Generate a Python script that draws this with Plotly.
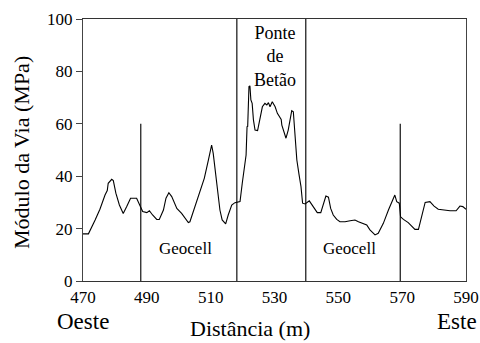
import plotly.graph_objects as go

# distance (m) and track modulus (MPa)
distance = [470.0, 471.7, 473.8, 475.3, 476.9, 477.6, 477.9, 479.0, 479.5, 480.3,
            481.4, 482.6, 483.7, 484.9, 486.8, 487.9, 488.7, 490.0, 490.8, 491.8,
            493.1, 493.9, 495.2, 496.0, 496.9, 497.8, 499.4, 500.9, 503.0, 503.5,
            505.1, 506.7, 508.0, 509.3, 510.3, 510.8, 511.9, 512.9, 513.6, 514.7,
            515.5, 516.6, 517.6, 519.2, 519.9, 520.5, 521.1, 521.4, 521.6, 522.0,
            522.3, 522.6, 523.0, 523.4, 523.9, 524.7, 525.4, 526.2, 527.0, 527.6,
            528.1, 528.6, 529.3, 530.2, 530.9, 531.5, 532.1, 532.3, 533.0, 533.6,
            534.3, 534.9, 535.4, 535.9, 536.4, 537.0, 537.7, 538.3, 538.8, 539.6,
            540.9, 542.2, 543.4, 544.5, 545.3, 546.1, 546.9, 547.6, 548.4, 549.5,
            550.5, 552.1, 553.7, 555.2, 556.3, 557.8, 558.9, 559.9, 561.5, 562.5,
            564.1, 565.7, 567.2, 567.7, 568.3, 569.1, 569.5, 570.4, 571.9, 574.0,
            575.1, 576.1, 576.8, 577.2, 578.7, 580.0, 581.3, 582.9, 585.0, 586.9,
            588.1, 589.0, 590.0]
modulus = [18.0, 18.0, 23.3, 27.4, 32.8, 34.5, 37.3, 38.8, 38.3, 33.5,
           29.0, 25.8, 28.4, 31.6, 31.6, 29.0, 26.5, 26.1, 26.8, 25.2,
           23.5, 23.5, 27.1, 31.6, 33.7, 32.2, 27.7, 25.8, 22.3, 22.6,
           28.4, 34.1, 39.2, 46.2, 51.9, 48.7, 37.3, 27.1, 23.3, 21.8,
           25.2, 29.0, 29.9, 30.3, 37.3, 42.4, 48.1, 58.9, 59.0, 74.2,
           74.5, 69.1, 67.8, 61.5, 57.6, 57.4, 61.5, 66.5, 67.8, 67.2,
           68.1, 66.5, 68.4, 66.5, 64.0, 62.7, 61.7, 59.5, 57.0, 54.5,
           57.6, 62.7, 65.0, 64.6, 56.4, 46.2, 40.5, 36.0, 29.7, 29.4,
           30.6, 28.4, 26.1, 26.1, 29.7, 32.4, 32.0, 27.7, 25.2, 23.5,
           22.6, 22.6, 23.0, 23.3, 22.6, 22.0, 21.4, 19.5, 17.6, 18.2,
           22.0, 27.1, 31.6, 32.8, 30.3, 29.7, 24.5, 23.5, 22.3, 19.7,
           19.7, 24.5, 28.4, 30.0, 30.3, 28.6, 27.4, 27.1, 26.8, 26.8,
           28.6, 28.4, 27.4]

# section boundaries (m) and marker heights (MPa)
boundaries = [488.1, 518.2, 539.8, 569.4]
boundary_heights = [60, 100, 100, 60]

x_ticks = [470, 490, 510, 530, 550, 570, 590]
y_ticks = [0, 20, 40, 60, 80, 100]

section_labels = ["Geocell", "Ponte<br>de<br>Betão", "Geocell"]
section_x = [502.1, 530.2, 553.4]
section_y = [12.5, 85.5, 12.5]

FONT = "Liberation Serif, Times New Roman, serif"

vx, vy = [], []
for b, h in zip(boundaries, boundary_heights):
    vx += [b, b, None]
    vy += [0, h, None]

fig = go.Figure()
fig.add_trace(go.Scatter(x=vx, y=vy, mode="lines",
                         line=dict(color="#111", width=1.2),
                         hoverinfo="skip", showlegend=False))
fig.add_trace(go.Scatter(x=distance, y=modulus, mode="lines",
                         line=dict(color="black", width=1.1),
                         showlegend=False))

for t, x, y in zip(section_labels, section_x, section_y):
    fig.add_annotation(x=x, y=y, text=t, showarrow=False,
                       xanchor="center", yanchor="middle",
                       font=dict(family=FONT, size=18 if "Ponte" in t else 17,
                                 color="black"))

def paper_note(text, x, y, size, angle=0):
    fig.add_annotation(xref="paper", yref="paper", x=x, y=y, text=text,
                       showarrow=False, xanchor="center", yanchor="middle",
                       textangle=angle,
                       font=dict(family=FONT, size=size, color="black"))

paper_note("Oeste", 0.0, -0.155, 23)
paper_note("Este", 0.976, -0.155, 23)
paper_note("Distância (m)", 0.436, -0.183, 22)
paper_note("Módulo da Via (MPa)", -0.159, 0.489, 22, angle=-90)

fig.update_xaxes(range=[470, 590], tickvals=x_ticks, ticktext=[str(v) for v in x_ticks],
                 showgrid=False, zeroline=False, showline=True, linecolor="#333",
                 linewidth=1.2, mirror=True, ticks="", automargin=False,
                 tickfont=dict(family=FONT, size=17, color="black"))
fig.update_yaxes(range=[0, 100], tickvals=y_ticks, showgrid=False, zeroline=False,
                 showline=True, linecolor="#444", linewidth=1.2, mirror=True,
                 ticks="outside", ticklen=6, tickcolor="#444", automargin=False,
                 tickfont=dict(family=FONT, size=17, color="black"))

fig.update_layout(width=480, height=343, margin=dict(l=83, r=14, t=19, b=62),
                  plot_bgcolor="white", paper_bgcolor="white")

fig.write_html("out.html", config={"displayModeBar": False},
               post_script="document.body.style.margin='0';document.body.style.overflow='hidden';")
